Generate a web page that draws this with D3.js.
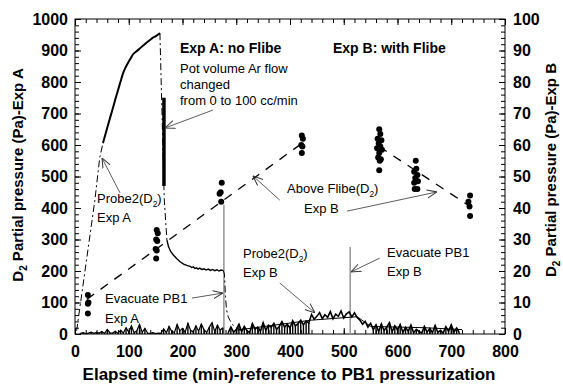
<!DOCTYPE html>
<html>
<head>
<meta charset="utf-8">
<script src="https://cdn.jsdelivr.net/npm/d3@7"></script>
<style>
  body { margin: 0; background: #fff; }
  svg { font-family: "Liberation Sans", Arial, sans-serif; }
</style>
</head>
<body>
<svg id="chart" width="563" height="386"></svg>
<script>
// ---- data (time in min, Exp A in Pa on left axis, Exp B in Pa on right axis) ----
const xTickValues = [0, 100, 200, 300, 400, 500, 600, 700, 800];
const yLeftTicks = [0, 100, 200, 300, 400, 500, 600, 700, 800, 900, 1000];
const yRightTicks = [0, 10, 20, 30, 40, 50, 60, 70, 80, 90, 100];

// Probe2(D2) Exp A
const probeARise = [[3, 10], [37, 425], [46, 560], [52, 606]];
const probeAClimb = [[52, 606], [56, 630], [60, 655], [65, 685], [70, 714], [75, 745], [80, 774],
  [85, 803], [89, 826], [94, 846], [99, 862], [104, 876], [108, 888], [114, 897], [121, 907],
  [127, 916], [134, 926], [140, 934], [145, 941], [150, 945], [154, 950], [158, 955]];
const probeADrop = [[158, 955], [166, 430], [171, 298]];
const probeAFlow = [[165.5, 470], [165.5, 750]];
const probeADecay = [[171, 298], [174, 277], [178, 262], [183, 251], [189, 240], [195, 230],
  [202, 222], [208, 218], [214, 215], [217, 211], [220, 213], [223, 208], [226, 210], [229, 206],
  [232, 209], [236, 205], [240, 207], [244, 203], [248, 206], [252, 202], [256, 205], [260, 201],
  [264, 204], [268, 200], [272, 203], [276, 201]];
const probeATail = [[276, 201], [278, 190], [280, 118], [282, 76], [285, 55], [288, 44],
  [294, 28], [301, 18], [310, 12]];
// near-zero signal Exp A, sampled every 5 min from t = 10
const noiseAStart = 10;
const noiseA = [2, 4, 1, 3, 6, 2, 5, 3, 8, 2, 14, 4, 3, 9, 2,
  12, 3, 20, 6, 26, 4, 10, 30, 5, 18, 3,
  2, 4, 1, 3, 2,
  16, 4, 24, 8, 5, 30, 10, 18, 6, 34, 12, 7, 26, 9, 32, 14, 5, 22, 36, 8, 28, 12, 20];

// Probe2(D2) Exp B, sampled every 5 min from t = 285
const probeBStart = 285;
const probeB = [0.4, 2.2, 0.6, 1.4, 3.1, 0.8, 2.4, 1, 0.5, 3.3, 1.6, 2.2, 0.9, 3.6, 1.2, 2.8,
  2.1, 3.4, 1.5, 2.4, 3.9, 2.2, 3.1, 1.9, 4.2, 2.6, 3.3, 4.4, 2.9, 4.1, 3.5,
  6.2, 4.7, 5.6, 6.8, 4.9, 6.1, 5.3, 7.1, 4.8, 6.3, 5.6, 7.3, 5.1, 6.4, 7.0, 5.4, 6.7, 5.2,
  4.4, 3.1, 4.0, 2.2, 3.4, 1.4, 2.9, 0.8, 3.2, 1.1, 2.2, 3.6, 0.7, 2.6, 1.3, 3.0, 0.5, 2.1, 0.9,
  2.8, 0.4, 1.5, 0.8, 0.3, 2.4, 0.6, 1.8, 0.4, 2.7, 0.5, 1.2, 0.3, 2.3, 0.9, 2.9, 0.6, 1.9, 0.4];
const probeBTrend = [[300, 1.2], [440, 4.4], [525, 5.5], [550, 2.4], [650, 2.0], [720, 1.4]];

// Above Flibe(D2) Exp B samples
const flibeTimes = [24, 24, 25, 24,
  152, 154, 151, 153, 150, 152, 151,
  273, 271, 269, 272,
  422, 424, 421, 423, 422,
  566, 568, 563, 570, 565, 568, 562, 571, 566, 564, 569, 567, 566,
  634, 635, 631, 637, 633, 638, 631, 632, 637,
  735, 732, 734, 735];
const flibeValues = [12.4, 9.6, 10.0, 6.5,
  33, 32, 30, 29.5, 27, 26.5, 24,
  48, 45, 44.5, 42,
  63, 62, 60, 59.5, 57.5,
  65, 63.5, 62, 61.5, 60.5, 59.5, 59, 58.5, 57.5, 56, 55.5, 55, 52,
  55, 52.5, 51.5, 50.5, 49.5, 48.5, 48, 46, 46,
  44, 42, 40.5, 37.5];
const flibeFitRise = [[22, 11], [422, 60.5]];
const flibeFitFall = [[566, 59.5], [735, 40.5]];

// evacuation markers [time, top in Pa (left axis)]
const evacuations = [[277, 410], [512, 276]];

// ---- layout ----
const svg = d3.select("#chart");
const x = d3.scaleLinear().domain([0, 800]).range([75, 505]);
const yL = d3.scaleLinear().domain([0, 1000]).range([334, 19]);
const yR = d3.scaleLinear().domain([0, 100]).range([334, 19]);

const lineL = d3.line().x(d => x(d[0])).y(d => yL(d[1]));
const smoothL = d3.line().x(d => x(d[0])).y(d => yL(d[1])).curve(d3.curveMonotoneX);
const lineR = d3.line().x(d => x(d[0])).y(d => yR(d[1]));
const dashDot = "7,3,2,3";

// axes with inward ticks
function axisGroup(axis, tx, ty) {
  const g = svg.append("g").attr("transform", `translate(${tx},${ty})`).call(axis);
  g.select(".domain").remove();
  g.selectAll("line").attr("stroke", "#000");
  g.selectAll("text").attr("fill", "#000").attr("font-size", 16).attr("font-weight", "bold");
  return g;
}
const fmt = d3.format("d");
const minorX = d3.range(0, 801, 20);
const minorY = d3.range(0, 1001, 20);
axisGroup(d3.axisBottom(x).tickValues(minorX).tickSize(-4).tickFormat(""), 0, 334);
axisGroup(d3.axisTop(x).tickValues(minorX).tickSize(-4).tickFormat(""), 0, 19);
axisGroup(d3.axisLeft(yL).tickValues(minorY).tickSize(-4).tickFormat(""), 75, 0);
axisGroup(d3.axisRight(yL).tickValues(minorY).tickSize(-4).tickFormat(""), 505, 0);
axisGroup(d3.axisBottom(x).tickValues(xTickValues).tickSize(-6).tickPadding(12).tickFormat(fmt), 0, 334);
axisGroup(d3.axisTop(x).tickValues(xTickValues).tickSize(-6).tickFormat(""), 0, 19);
axisGroup(d3.axisLeft(yL).tickValues(yLeftTicks).tickSize(-6).tickPadding(7).tickFormat(fmt), 75, 0);
axisGroup(d3.axisRight(yR).tickValues(yRightTicks).tickSize(-6).tickPadding(8).tickFormat(fmt), 505, 0);

svg.append("rect").attr("x", 75).attr("y", 19).attr("width", 430).attr("height", 315)
  .attr("fill", "none").attr("stroke", "#000").attr("stroke-width", 1);

// evacuation markers
svg.selectAll(".evac").data(evacuations).join("line")
  .attr("x1", d => x(d[0])).attr("x2", d => x(d[0]))
  .attr("y1", yL(0)).attr("y2", d => yL(d[1]))
  .attr("stroke", "#999").attr("stroke-width", 1.6);

// near zero noise (Exp A): trace plus spikes
const noiseAPts = noiseA.map((v, i) => [noiseAStart + 5 * i, v]);
svg.append("path")
  .attr("d", lineL(noiseAPts))
  .attr("fill", "none").attr("stroke", "#000").attr("stroke-width", 1.2);
svg.selectAll(".spikeA").data(noiseAPts).join("line")
  .attr("x1", d => x(d[0])).attr("x2", d => x(d[0]))
  .attr("y1", yL(0)).attr("y2", d => yL(d[1]))
  .attr("stroke", "#000").attr("stroke-width", 1.4);

// Probe2 Exp B
const probeBPts = probeB.map((v, i) => [probeBStart + 5 * i, v]);
svg.append("path")
  .attr("d", lineR(probeBTrend))
  .attr("fill", "none").attr("stroke", "#000").attr("stroke-width", 1);
svg.append("path")
  .attr("d", lineR(probeBPts))
  .attr("fill", "none").attr("stroke", "#000").attr("stroke-width", 1.6);
svg.selectAll(".spikeB").data(probeBPts.filter(d => d[0] < 438 || d[0] > 552)).join("line")
  .attr("x1", d => x(d[0])).attr("x2", d => x(d[0]))
  .attr("y1", yR(0)).attr("y2", d => yR(d[1]))
  .attr("stroke", "#000").attr("stroke-width", 1.4);

// Probe2 Exp A
[[probeARise, dashDot, 1, lineL], [probeAClimb, null, 2, smoothL], [probeADrop, dashDot, 1, lineL],
 [probeADecay, null, 1.4, lineL], [probeATail, dashDot, 1, lineL], [probeAFlow, null, 3.5, lineL]]
  .forEach(([pts, dash, w, gen]) => {
    svg.append("path").attr("d", gen(pts))
      .attr("fill", "none").attr("stroke", "#000").attr("stroke-width", w)
      .attr("stroke-dasharray", dash);
  });

// Above Flibe fit lines and samples
[flibeFitRise, flibeFitFall].forEach(pts => {
  svg.append("path").attr("d", lineR(pts))
    .attr("fill", "none").attr("stroke", "#000").attr("stroke-width", 1.3)
    .attr("stroke-dasharray", "9,8");
});
svg.selectAll(".dot").data(flibeTimes).join("circle")
  .attr("cx", d => x(d)).attr("cy", (d, i) => yR(flibeValues[i])).attr("r", 3)
  .attr("fill", "#000");

// ---- annotations ----
svg.append("defs").append("marker")
  .attr("id", "arr").attr("viewBox", "0 0 10 10").attr("refX", 10).attr("refY", 5)
  .attr("markerWidth", 10).attr("markerHeight", 10).attr("markerUnits", "userSpaceOnUse")
  .attr("orient", "auto")
  .append("path").attr("d", "M0,1 L10,5 L0,9").attr("fill", "none").attr("stroke", "#333").attr("stroke-width", 1);

const arrows = [
  [[256.7, 711], [167.4, 654]],
  [[83.7, 448], [50.2, 559]],
  [[217.7, 114], [275.3, 130]],
  [[381, 425], [331, 502]],
  [[506, 390], [673.5, 451]],
  [[381, 162], [446.5, 67]],
  [[567, 241], [513.5, 197]]
];
svg.selectAll(".arrow").data(arrows).join("line")
  .attr("x1", d => x(d[0][0])).attr("y1", d => yL(d[0][1]))
  .attr("x2", d => x(d[1][0])).attr("y2", d => yL(d[1][1]))
  .attr("stroke", "#333").attr("stroke-width", 0.8).attr("marker-end", "url(#arr)");

function label(px, py, text, size, weight) {
  return svg.append("text").attr("x", px).attr("y", py)
    .attr("font-size", size).attr("font-weight", weight || "normal").attr("fill", "#000")
    .text(text);
}
function sublabel(px, py, before, sub, after, size) {
  const t = svg.append("text").attr("x", px).attr("y", py).attr("font-size", size).attr("fill", "#000");
  t.append("tspan").text(before);
  t.append("tspan").attr("font-size", size * 0.65).attr("dy", size * 0.28).text(sub);
  t.append("tspan").attr("dy", -size * 0.28).text(after);
  return t;
}

label(180, 53, "Exp A: no Flibe", 14, "bold");
label(333, 53, "Exp B: with Flibe", 14, "bold");
label(180, 73, "Pot volume Ar flow", 13);
label(180, 89, "changed", 13);
label(180, 105, "from 0 to 100 cc/min", 13);
sublabel(97, 203, "Probe2(D", "2", ")", 13);
label(97, 222, "Exp A", 13);
label(105, 303, "Evacuate PB1", 13);
label(105, 323, "Exp A", 13);
sublabel(287, 193, "Above Flibe(D", "2", ")", 13);
label(304, 213, "Exp B", 13);
sublabel(243, 258, "Probe2(D", "2", ")", 13);
label(243, 277, "Exp B", 13);
label(387, 257, "Evacuate PB1", 13);
label(387, 276, "Exp B", 13);

// axis titles
svg.append("text").attr("x", 289).attr("y", 380).attr("text-anchor", "middle")
  .attr("font-size", 17).attr("font-weight", "bold")
  .text("Elapsed time (min)-reference to PB1 pressurization");

function yTitle(px, py, tail) {
  const t = svg.append("text").attr("transform", `translate(${px},${py}) rotate(-90)`)
    .attr("text-anchor", "middle").attr("font-size", 15).attr("font-weight", "bold");
  t.append("tspan").text("D");
  t.append("tspan").attr("font-size", 10).attr("dy", 4).text("2");
  t.append("tspan").attr("dy", -4).text(" Partial pressure (Pa)-" + tail);
}
yTitle(23, 175, "Exp A");
yTitle(556, 170, "Exp B");
</script>
</body>
</html>
